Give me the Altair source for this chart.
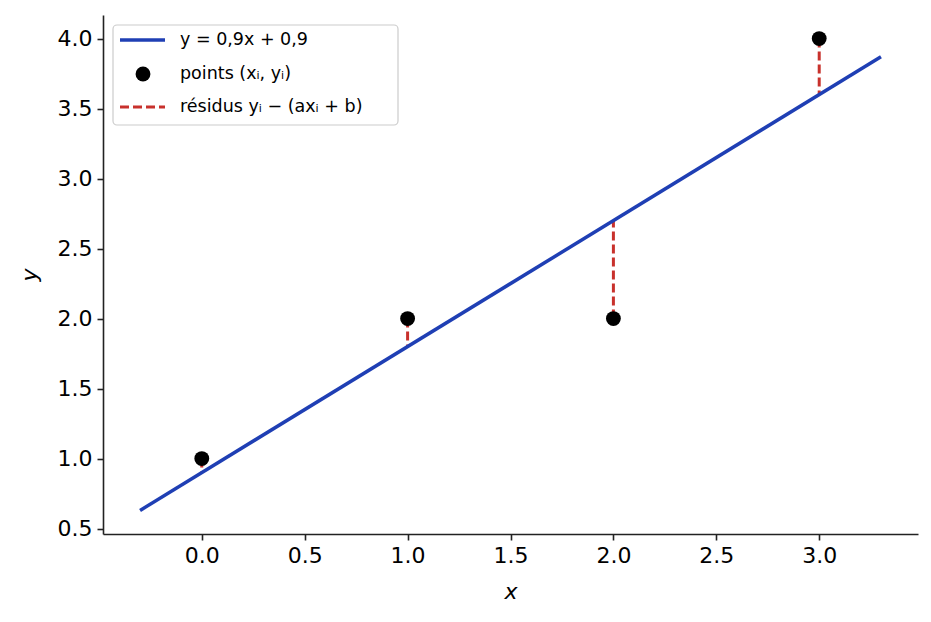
import altair as alt
import pandas as pd

# points observés (x_i, y_i)
px = [0, 1, 2, 3]
py = [1, 2, 2, 4]
# valeurs ajustées a*x_i + b sur la droite
fit = [0.9, 1.8, 2.7, 3.6]
# extrémités de la droite y = 0,9x + 0,9
line_x = [-0.3, 3.3]
line_y = [0.63, 3.87]

x_ticks = [0.0, 0.5, 1.0, 1.5, 2.0, 2.5, 3.0]
y_ticks = [0.5, 1.0, 1.5, 2.0, 2.5, 3.0, 3.5, 4.0]

legend_labels = ["y = 0,9x + 0,9", "points (xᵢ, yᵢ)", "résidus yᵢ − (axᵢ + b)"]

BLUE = "#1f3fb4"
RED = "#c8312c"
FONT = "DejaVu Sans"

df_line = pd.DataFrame({"x": line_x, "y": line_y})
df_pts = pd.DataFrame({"x": px, "y": py, "fit": fit})

x_enc = alt.X("x:Q", title="x",
              scale=alt.Scale(domain=[-0.48, 3.48], nice=False, zero=False),
              axis=alt.Axis(values=x_ticks, format=".1f", titlePadding=15))
y_enc = alt.Y("y:Q", title="y",
              scale=alt.Scale(domain=[0.4615, 4.1685], nice=False, zero=False),
              axis=alt.Axis(values=y_ticks, format=".1f", titlePadding=16))

residus = alt.Chart(df_pts).mark_rule(color=RED, strokeWidth=3, strokeDash=[9, 4]).encode(
    x=x_enc, y=y_enc, y2="fit:Q")

droite = alt.Chart(df_line).mark_line(color=BLUE, strokeWidth=3.5).encode(x=x_enc, y=y_enc)

points = alt.Chart(df_pts).mark_circle(size=220, color="black", opacity=1).encode(x=x_enc, y=y_enc)

# légende dessinée à la main (style matplotlib)
def one(label):
    return pd.DataFrame({"label": [label]})

box = alt.Chart(one("box")).mark_rect(fill="white", stroke="#cccccc", strokeWidth=1.2,
                                      cornerRadius=4, fillOpacity=0.85).encode(
    x=alt.value(10), x2=alt.value(295), y=alt.value(10), y2=alt.value(110))
leg_line = alt.Chart(one("l")).mark_rule(color=BLUE, strokeWidth=3.5).encode(
    x=alt.value(17), x2=alt.value(62), y=alt.value(25))
leg_pt = alt.Chart(one("p")).mark_circle(size=220, color="black", opacity=1).encode(
    x=alt.value(40), y=alt.value(59))
leg_res = alt.Chart(one("r")).mark_rule(color=RED, strokeWidth=3, strokeDash=[9, 4]).encode(
    x=alt.value(17), x2=alt.value(62), y=alt.value(92))

texts = []
for lab, yy in zip(legend_labels, [25, 59, 92]):
    texts.append(
        alt.Chart(one(lab)).mark_text(align="left", baseline="middle", fontSize=17.5,
                                      font=FONT, color="black").encode(
            x=alt.value(77), y=alt.value(yy), text="label:N"))

chart = alt.layer(residus, droite, points, box, leg_line, leg_pt, leg_res, *texts).properties(
    width=815, height=519,
    autosize=alt.AutoSizeParams(type="none"),
    padding={"left": 95, "top": 7, "right": 5, "bottom": 80},
    background="white",
).configure_view(stroke=None).configure_axis(
    grid=False,
    domainColor="#222222", domainWidth=1.6,
    tickColor="#222222", tickWidth=1.6, tickSize=6,
    labelFont=FONT, labelFontSize=22, labelColor="black", labelPadding=5,
    titleFont=FONT, titleFontSize=22, titleFontStyle="italic", titleFontWeight="normal",
    titleColor="black",
)

chart.save("out.html", embed_options={"renderer": "svg", "actions": False})
